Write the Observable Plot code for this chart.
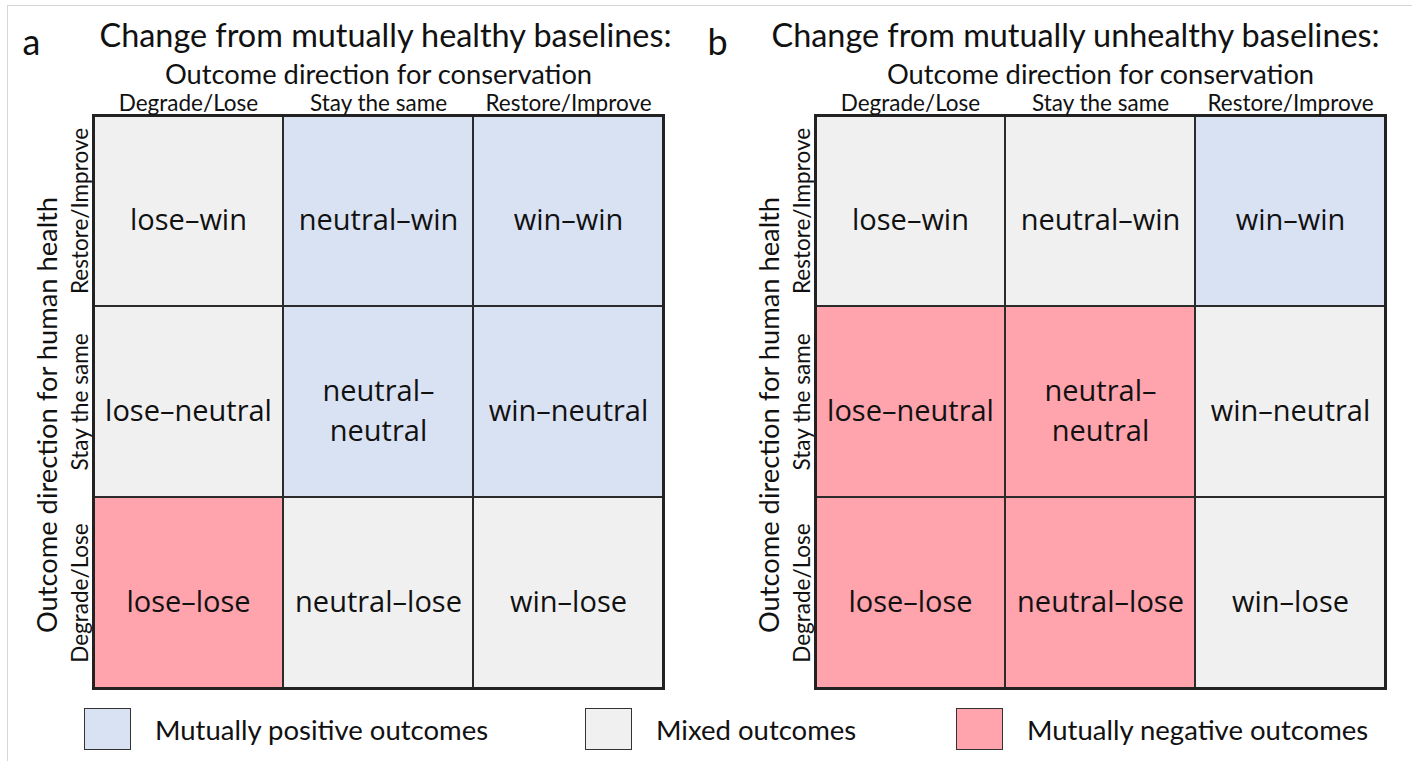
<!DOCTYPE html>
<html>
<head>
<meta charset="utf-8">
<script src="https://cdn.jsdelivr.net/npm/d3@7"></script>
<script src="https://cdn.jsdelivr.net/npm/@observablehq/plot@0.6"></script>
<style>
  html, body { margin: 0; padding: 0; background: #fff; }
  body { width: 1412px; height: 761px; position: relative; overflow: hidden; font-family: Lato, sans-serif; }
  #chart { position: absolute; left: 0; top: 0; }
  #frame { position: absolute; left: 7px; top: 5px; right: 0; bottom: 0; border-top: 1px solid #d6d6d6; border-left: 1px solid #d6d6d6; pointer-events: none; }
  #legend { position: absolute; left: 0; top: 700px; width: 1412px; height: 61px; }
  .item { position: absolute; top: 8px; display: flex; align-items: center; }
  .sw { width: 47px; height: 42px; border: 1.5px solid #333; box-sizing: border-box; }
  .lab { font-family: Lato, sans-serif; font-size: 27.5px; color: #111; margin-left: 24px; }
</style>
</head>
<body>
<div id="chart"></div>
<div id="legend"></div>
<div id="frame"></div>
<script>
// ---- data ----
const panels = ["a", "b"];
const panelTitles = ["Change from mutually healthy baselines:", "Change from mutually unhealthy baselines:"];
const directions = ["Degrade/Lose", "Stay the same", "Restore/Improve"];
const outcomeWords = ["lose", "neutral", "win"];
const outcomeClasses = ["Mutually positive outcomes", "Mixed outcomes", "Mutually negative outcomes"];
const classColors = ["#d9e2f3", "#f0f0f0", "#ffa3ad"];
const xAxisTitle = "Outcome direction for conservation";
const yAxisTitle = "Outcome direction for human health";
// class index per cell; rows = human health (Restore/Improve, Stay the same, Degrade/Lose),
// columns = conservation (Degrade/Lose, Stay the same, Restore/Improve)
const classesA = [[1, 0, 0], [1, 0, 0], [2, 1, 1]];
const classesB = [[1, 1, 0], [2, 2, 1], [2, 2, 1]];
const panelClasses = [classesA, classesB];

// ---- table ----
const table = [];
panels.forEach((p, pi) => {
  panelClasses[pi].forEach((row, ri) => {
    const hi = 2 - ri;
    row.forEach((c, ci) => {
      const a = outcomeWords[ci], b = outcomeWords[hi];
      table.push({
        panel: p,
        cons: directions[ci],
        health: directions[hi],
        cls: outcomeClasses[c],
        label: (a === "neutral" && b === "neutral") ? a + "–\n" + b : a + "–" + b
      });
    });
  });
});

// ---- layout (not data) ----
const letterDx = [-71, -108];
const titleDx = [6, -44];

const panelMarks = panels.flatMap((p, i) => [
  Plot.text([p], {fx: d => d, frameAnchor: "top-left", text: () => p, dx: letterDx[i], dy: -61,
    textAnchor: "start", lineAnchor: "bottom", fontSize: 36, fill: "#111"}),
  Plot.text([p], {fx: d => d, frameAnchor: "top-left", text: () => panelTitles[i], dx: titleDx[i], dy: -69,
    textAnchor: "start", lineAnchor: "bottom", fontSize: 32.4, fill: "#111"})
]);

const chart = Plot.plot({
  width: 1412,
  height: 700,
  marginTop: 115,
  marginLeft: 92,
  marginRight: 26,
  marginBottom: 12,
  fx: {domain: panels, padding: 0.21, axis: null},
  x: {domain: directions, padding: 0, axis: null},
  y: {domain: directions.slice().reverse(), padding: 0, axis: null},
  color: {domain: outcomeClasses, range: classColors},
  style: {fontFamily: "Lato, sans-serif", background: "transparent", color: "#111"},
  marks: [
    Plot.cell(table, {fx: "panel", x: "cons", y: "health", fill: "cls", stroke: "#2b2b2b", strokeWidth: 2, inset: 0}),
    Plot.frame({stroke: "#222", strokeWidth: 3}),
    Plot.text(table, {fx: "panel", x: "cons", y: "health", text: "label", dy: 6,
      fontFamily: "Open Sans", fontSize: 29, lineHeight: 1.38, fill: "#111"}),
    Plot.axisX({anchor: "top", tickSize: 0, tickPadding: 5, fontSize: 22.5, label: null, facetAnchor: null}),
    Plot.axisY({anchor: "left", tickSize: 0, tickPadding: 6, tickRotate: -90, fontSize: 22.5, label: null, facetAnchor: null}),
    Plot.text(panels, {fx: d => d, frameAnchor: "top", text: () => xAxisTitle, dy: -32, lineAnchor: "bottom", fontSize: 27.3, fill: "#111"}),
    Plot.text(panels, {fx: d => d, frameAnchor: "left", text: () => yAxisTitle, dx: -45, dy: 13, rotate: -90,
      textAnchor: "middle", lineAnchor: "middle", fontSize: 27.3, fill: "#111"}),
    ...panelMarks
  ]
});
document.getElementById("chart").appendChild(chart);

// ---- legend ----
const legendLeft = [84, 585, 956];
const legend = document.getElementById("legend");
outcomeClasses.forEach((c, i) => {
  const item = document.createElement("div");
  item.className = "item";
  item.style.left = legendLeft[i] + "px";
  const sw = document.createElement("div");
  sw.className = "sw";
  sw.style.background = classColors[i];
  const lab = document.createElement("span");
  lab.className = "lab";
  lab.textContent = c;
  item.appendChild(sw);
  item.appendChild(lab);
  legend.appendChild(item);
});
</script>
</body>
</html>
